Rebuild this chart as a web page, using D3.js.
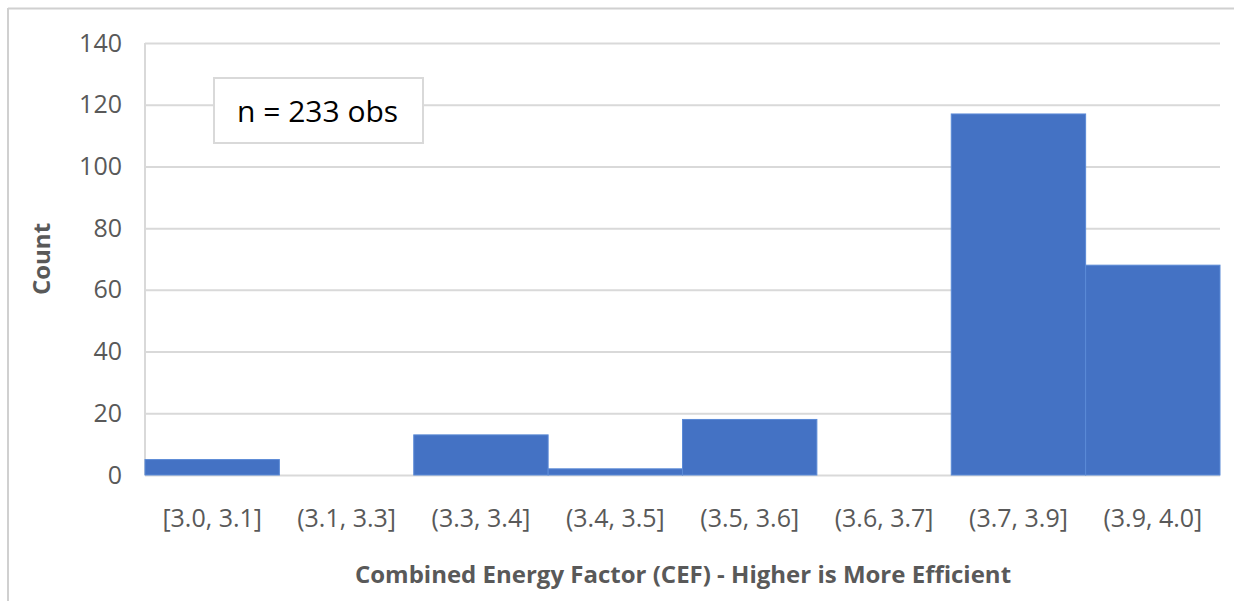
<!DOCTYPE html>
<html><head><meta charset="utf-8">
<script src="https://cdn.jsdelivr.net/npm/d3@7"></script>
<style>html,body{margin:0;padding:0;background:#fff;overflow:hidden;}svg{display:block;}</style>
</head><body>
<svg id="c" width="1234" height="601"></svg>
<script>
const categories = ["[3.0, 3.1]","(3.1, 3.3]","(3.3, 3.4]","(3.4, 3.5]","(3.5, 3.6]","(3.6, 3.7]","(3.7, 3.9]","(3.9, 4.0]"];
const counts = [5, 0, 13, 2, 18, 0, 117, 68];
const yTicks = [0, 20, 40, 60, 80, 100, 120, 140];
const annotation = "n = 233 obs";
const xTitle = "Combined Energy Factor (CEF) - Higher is More Efficient";
const yTitle = "Count";

const W = 1234, H = 601;
const m = {left: 145, right: 1220, top: 43, bottom: 475};
const font = "'Open Sans', 'Noto Sans', sans-serif";
const svg = d3.select("#c");

// outer frame (top and left edges visible)
svg.append("line").attr("x1", 8).attr("x2", W).attr("y1", 8.5).attr("y2", 8.5).attr("stroke", "#d0d0d0").attr("stroke-width", 2);
svg.append("line").attr("x1", 8).attr("x2", 8).attr("y1", 8).attr("y2", H).attr("stroke", "#d0d0d0").attr("stroke-width", 2);

const x = d3.scaleBand().domain(categories).range([m.left, m.right]).padding(0);
const y = d3.scaleLinear().domain([0, 140]).range([m.bottom, m.top]);

// gridlines
const yAxis = d3.axisLeft(y).tickValues(yTicks).tickSize(-(m.right - m.left)).tickPadding(23).tickFormat(d3.format("d"));
const gy = svg.append("g").attr("transform", `translate(${m.left},0)`).call(yAxis);
gy.select(".domain").remove();
gy.selectAll(".tick line").attr("stroke", "#d9d9d9").attr("stroke-width", 2);
gy.selectAll(".tick text").attr("fill", "#595959").style("font-family", font).style("font-size", "25px");

// vertical axis line
svg.append("line").attr("x1", m.left).attr("x2", m.left).attr("y1", m.top).attr("y2", m.bottom).attr("stroke", "#d9d9d9").attr("stroke-width", 2);

// bars
svg.append("g").selectAll("rect").data(categories).join("rect")
  .attr("x", d => x(d))
  .attr("width", x.bandwidth())
  .attr("y", (d, i) => y(counts[i]))
  .attr("height", (d, i) => y(0) - y(counts[i]))
  .attr("fill", "#4472C4")
  .attr("stroke", (d, i) => counts[i] > 0 ? "#5b8ad6" : "none")
  .attr("stroke-width", 1);

// x axis labels
const xAxis = d3.axisBottom(x).tickSize(0).tickPadding(34);
const gx = svg.append("g").attr("transform", `translate(0,${m.bottom})`).call(xAxis);
gx.select(".domain").remove();
gx.selectAll(".tick text").attr("fill", "#595959").style("font-family", font).style("font-size", "25px");

// axis titles
svg.append("text").attr("x", 683).attr("y", 583).attr("text-anchor", "middle")
  .attr("fill", "#595959").style("font-family", font).style("font-size", "24px").style("font-weight", "bold").text(xTitle);
svg.append("text").attr("transform", "translate(50,259) rotate(-90)").attr("text-anchor", "middle")
  .attr("fill", "#595959").style("font-family", font).style("font-size", "24px").style("font-weight", "bold").text(yTitle);

// annotation box
svg.append("rect").attr("x", 214).attr("y", 78).attr("width", 209).attr("height", 65)
  .attr("fill", "#fff").attr("stroke", "#d9d9d9").attr("stroke-width", 2);
svg.append("text").attr("x", 237).attr("y", 122).attr("fill", "#000")
  .style("font-family", font).style("font-size", "30px").text(annotation);
</script>
</body></html>
